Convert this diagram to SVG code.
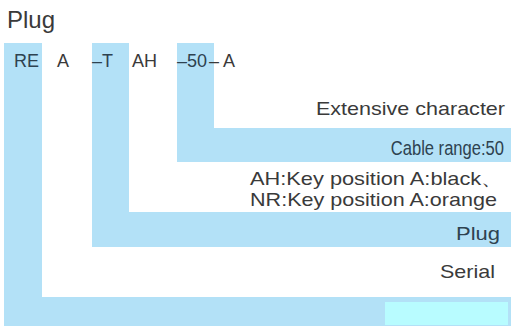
<svg xmlns="http://www.w3.org/2000/svg" width="512" height="328" viewBox="0 0 512 328">
<style>
.band{fill:#b3e1f7}
.t{font-family:"Liberation Sans",Arial,sans-serif;fill:#3a3a3a}
.code{font-size:18px}
.lbl{font-size:19px;text-anchor:end}
.onb{fill:#2e4250}
</style>
<rect width="512" height="328" fill="#ffffff"/>
<g id="title"><text class="t" x="7" y="28" font-size="24">Plug</text></g>
<g id="serial-node">
<path class="band" d="M4,43H42V297H511V326H4Z"/>
<rect x="385" y="302" width="123" height="23" fill="#b8fcff"/>
<text class="t lbl" x="495" y="278" textLength="55" lengthAdjust="spacingAndGlyphs">Serial</text>
</g>
<g id="plug-node">
<path class="band" d="M92,43H129V212H511V247H92Z"/>
<text class="t lbl onb" x="500" y="240" textLength="44" lengthAdjust="spacingAndGlyphs">Plug</text>
</g>
<g id="key-node">
<text class="t lbl" x="503" y="185" textLength="253" lengthAdjust="spacingAndGlyphs">AH:Key position A:black、</text>
<text class="t lbl" x="497" y="206" textLength="247" lengthAdjust="spacingAndGlyphs">NR:Key position A:orange</text>
</g>
<g id="cable-node">
<path class="band" d="M177,43H214V128H511V162H177Z"/>
<text class="t onb" transform="translate(504,155) scale(0.85,1)" font-size="19.5" text-anchor="end">Cable range:50</text>
</g>
<g id="ext-node">
<text class="t lbl" x="505" y="115" textLength="189" lengthAdjust="spacingAndGlyphs">Extensive character</text>
</g>
<g id="code" class="t code">
<text class="onb" x="14" y="67">RE</text>
<text x="57" y="67">A</text>
<text class="onb" x="92" y="67">–T</text>
<text x="132" y="67">AH</text>
<text class="onb" x="177" y="67">–50</text>
<text x="209" y="67">–</text>
<text x="223" y="67">A</text>
</g>
<g id="connectors"></g>
</svg>
